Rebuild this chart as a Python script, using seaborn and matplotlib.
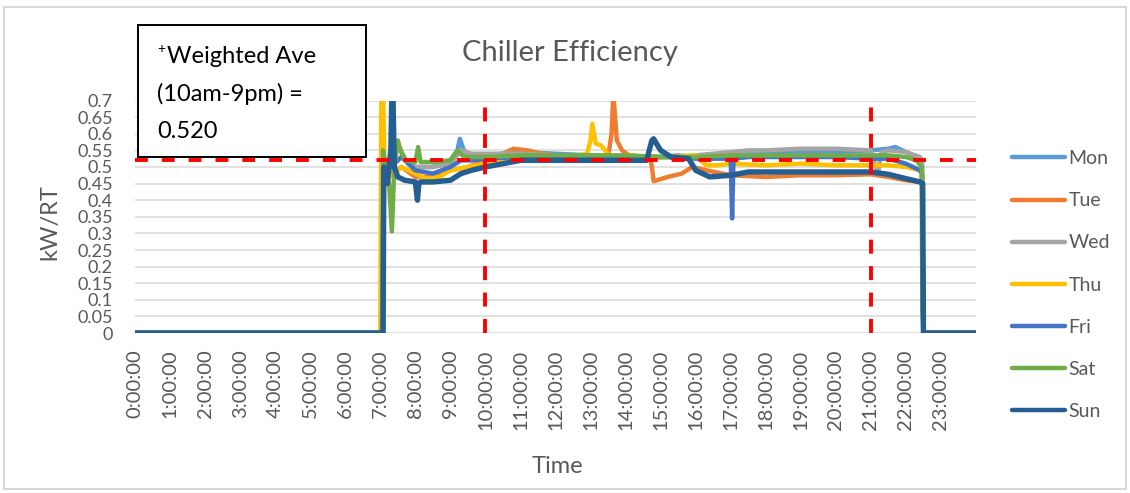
import numpy as np
import pandas as pd
import matplotlib
matplotlib.use("Agg")
import matplotlib.pyplot as plt
from matplotlib.lines import Line2D
from matplotlib.patches import Rectangle
import seaborn as sns

# ---- data (hour of day, kW/RT) ----
days = ["Mon", "Tue", "Wed", "Thu", "Fri", "Sat", "Sun"]
day_colors = ["#5B9BD5", "#ED7D31", "#A5A5A5", "#FFC000", "#4472C4", "#70AD47", "#255E91"]

mon_t = [0, 7.05, 7.1, 7.3, 7.5, 7.8, 8.0, 8.5, 9.0, 9.2, 9.27, 9.4, 9.7, 10.0, 10.5, 11, 12, 13, 14,
         14.5, 15, 15.5, 16, 16.5, 17, 18, 19, 20, 21, 21.5, 21.7, 22.0, 22.3, 22.46, 22.5, 23.98]
mon_v = [0, 0, 0.50, 0.52, 0.56, 0.51, 0.50, 0.50, 0.52, 0.55, 0.585, 0.545, 0.535, 0.535, 0.54, 0.545,
         0.54, 0.535, 0.53, 0.53, 0.53, 0.535, 0.53, 0.535, 0.54, 0.545, 0.545, 0.545, 0.55, 0.555,
         0.56, 0.545, 0.53, 0.52, 0, 0]

tue_t = [0, 7.05, 7.1, 7.3, 7.6, 8.0, 8.5, 9.0, 9.5, 10.0, 10.5, 10.8, 11.2, 11.6, 12, 12.5, 13, 13.5,
         13.6, 13.65, 13.75, 13.9, 14.1, 14.5, 14.7, 14.75, 14.8, 15.2, 15.6, 15.9, 16.4, 17, 18, 19,
         20, 21, 21.5, 22, 22.4, 22.46, 22.5, 23.98]
tue_v = [0, 0, 0.50, 0.48, 0.50, 0.47, 0.47, 0.49, 0.50, 0.52, 0.54, 0.555, 0.55, 0.54, 0.535, 0.53,
         0.53, 0.53, 0.60, 0.72, 0.58, 0.55, 0.535, 0.53, 0.53, 0.50, 0.457, 0.47, 0.48, 0.50, 0.488,
         0.475, 0.47, 0.475, 0.475, 0.478, 0.47, 0.46, 0.455, 0.45, 0, 0]

wed_t = [0, 7.05, 7.1, 7.3, 7.6, 8, 8.5, 9, 9.3, 9.6, 10, 11, 12, 13, 14, 15, 15.5, 16, 16.5, 17, 17.5,
         18, 19, 20, 21, 21.2, 21.3, 21.5, 22, 22.4, 22.46, 22.5, 23.98]
wed_v = [0, 0, 0.50, 0.50, 0.53, 0.50, 0.50, 0.51, 0.55, 0.54, 0.54, 0.54, 0.535, 0.535, 0.53, 0.53,
         0.53, 0.535, 0.54, 0.545, 0.55, 0.55, 0.555, 0.555, 0.55, 0.48, 0.545, 0.55, 0.545, 0.53,
         0.52, 0, 0]

thu_t = [0, 7.0, 7.03, 7.08, 7.12, 7.3, 7.6, 8, 8.3, 8.7, 9, 9.5, 10, 10.5, 11, 12, 12.5, 12.9, 13.0,
         13.05, 13.15, 13.3, 13.45, 13.6, 14, 15, 16, 16.3, 16.6, 17, 18, 19, 20, 21, 21.5, 22, 22.4,
         22.46, 22.5, 23.98]
thu_v = [0, 0, 0.72, 0.72, 0.50, 0.47, 0.50, 0.48, 0.465, 0.47, 0.49, 0.50, 0.51, 0.515, 0.52, 0.525,
         0.53, 0.54, 0.58, 0.63, 0.57, 0.565, 0.545, 0.53, 0.535, 0.53, 0.535, 0.505, 0.505, 0.51,
         0.505, 0.51, 0.505, 0.505, 0.505, 0.50, 0.49, 0.485, 0, 0]

fri_t = [0, 7.05, 7.1, 7.3, 7.6, 8, 8.5, 9, 9.3, 9.6, 10, 11, 12, 13, 14, 15, 15.5, 16, 16.5, 17.0,
         17.04, 17.08, 17.5, 18, 19, 20, 21, 21.5, 22, 22.4, 22.46, 22.5, 23.98]
fri_v = [0, 0, 0.48, 0.50, 0.53, 0.49, 0.48, 0.50, 0.52, 0.52, 0.525, 0.53, 0.53, 0.53, 0.53, 0.53,
         0.53, 0.525, 0.525, 0.525, 0.345, 0.525, 0.53, 0.53, 0.53, 0.53, 0.525, 0.525, 0.51, 0.49,
         0.48, 0, 0]

sat_t = [0, 7.05, 7.08, 7.15, 7.25, 7.33, 7.4, 7.5, 7.55, 7.7, 8.0, 8.08, 8.15, 8.5, 9.0, 9.2, 9.4,
         9.7, 10, 11, 12, 13, 14, 15, 16, 17, 18, 19, 20, 21, 21.5, 22, 22.3, 22.45, 22.47, 22.5, 23.98]
sat_v = [0, 0, 0.55, 0.50, 0.45, 0.306, 0.50, 0.58, 0.56, 0.52, 0.515, 0.56, 0.515, 0.515, 0.52,
         0.55, 0.53, 0.53, 0.53, 0.535, 0.535, 0.535, 0.535, 0.53, 0.53, 0.535, 0.535, 0.535, 0.535,
         0.535, 0.535, 0.53, 0.52, 0.50, 0.07, 0, 0]

sun_t = [0, 7.08, 7.1, 7.2, 7.3, 7.33, 7.36, 7.4, 7.5, 7.7, 8.0, 8.06, 8.1, 8.15, 8.5, 9.0, 9.3, 9.6,
         10, 10.5, 11, 12, 13, 14, 14.6, 14.75, 14.8, 15.0, 15.3, 15.8, 16.0, 16.2, 16.4, 17, 17.5, 18,
         19, 20, 21, 21.5, 22, 22.4, 22.48, 22.5, 23.98]
sun_v = [0, 0, 0.50, 0.45, 0.55, 0.72, 0.72, 0.50, 0.47, 0.46, 0.455, 0.40, 0.45, 0.455, 0.455, 0.46,
         0.48, 0.49, 0.50, 0.51, 0.52, 0.52, 0.52, 0.52, 0.52, 0.58, 0.585, 0.55, 0.53, 0.525, 0.49,
         0.48, 0.47, 0.475, 0.485, 0.485, 0.485, 0.485, 0.485, 0.478, 0.465, 0.455, 0.45, 0, 0]

weighted_ave = 0.52
window_start, window_end = 10, 21
hour_ticks = list(range(24))
hour_labels = [f"{h}:00:00" for h in hour_ticks]
y_ticks = [round(0.05 * i, 2) for i in range(15)]

series = {"Mon": (mon_t, mon_v), "Tue": (tue_t, tue_v), "Wed": (wed_t, wed_v),
          "Thu": (thu_t, thu_v), "Fri": (fri_t, fri_v), "Sat": (sat_t, sat_v),
          "Sun": (sun_t, sun_v)}
df = pd.concat([pd.DataFrame({"hour": t, "kW/RT": v, "day": d}) for d, (t, v) in series.items()],
               ignore_index=True)

# ---- style ----
sns.set_style("white")
plt.rcParams["font.family"] = ["Lato", "DejaVu Sans"]
grey = "#595959"

fig = plt.figure(figsize=(11.3, 4.93), dpi=100)
ax = fig.add_axes([0.1195, 0.3245, 0.7442, 0.4715])

sns.lineplot(data=df, x="hour", y="kW/RT", hue="day", hue_order=days, palette=day_colors,
             estimator=None, sort=False, linewidth=3.2, legend=False, ax=ax)
ax.lines[-1].set_linewidth(3.9)  # Sun sits on top, a bit heavier

# weighted average and window markers
ax.axhline(weighted_ave, color="#FF0000", lw=2.8, dashes=(3.3, 3.6), zorder=5)
for xv in (window_start, window_end):
    ax.axvline(xv, color="#FF0000", lw=2.8, dashes=(3.6, 3.2), zorder=5)

ax.set_xlim(0, 24)
ax.set_ylim(0, 0.7)
ax.set_xticks(hour_ticks)
ax.set_xticklabels(hour_labels, rotation=90, fontsize=14.5, color=grey)
ax.set_yticks(y_ticks)
ax.set_yticklabels([f"{v:g}" for v in y_ticks], fontsize=13, color=grey)
ax.tick_params(axis="x", length=0, pad=12)
ax.tick_params(axis="y", length=0, pad=16)
ax.grid(axis="y", color="#D9D9D9", lw=1.1)
ax.grid(axis="x", visible=False)
sns.despine(ax=ax, left=True, bottom=True)

ax.set_xlabel("Time", fontsize=17, color=grey)
ax.set_ylabel("kW/RT", fontsize=17, color=grey)
ax.xaxis.set_label_coords(0.502, -0.53)
ax.yaxis.set_label_coords(-0.089, 0.477)

fig.text(0.5044, 0.8925, "Chiller Efficiency", ha="center", va="center", fontsize=21, color=grey)

handles = [Line2D([], [], color=c, lw=3.2, solid_capstyle="round") for c in day_colors]
ax.legend(handles, days, loc="center left", bbox_to_anchor=(0.8956, 0.4219),
          bbox_transform=fig.transFigure, frameon=False, fontsize=14, labelcolor=grey,
          handlelength=2.7, handletextpad=0.2, labelspacing=1.29, borderpad=0, borderaxespad=0)

# annotation box
fig.add_artist(Rectangle((0.1221, 0.6815), 0.2018, 0.2677, transform=fig.transFigure,
                         facecolor="white", edgecolor="black", lw=1.4, zorder=10))
box_lines = [("+", 0.1389, 0.8925, 10), ("Weighted Ave", 0.1478, 0.8722, 17),
             ("(10am-9pm) =", 0.1389, 0.7951, 17), ("0.520", 0.1389, 0.7201, 17)]
for txt, bx, by, fs in box_lines:
    fig.text(bx, by, txt, ha="left", va="baseline", fontsize=fs, color="black", zorder=11)

# outer frame
fig.add_artist(Rectangle((0.0035, 0.008), 0.993, 0.978, transform=fig.transFigure,
                         facecolor="none", edgecolor="#D9D9D9", lw=1.5, zorder=0))

fig.savefig("out.png", dpi=100)
